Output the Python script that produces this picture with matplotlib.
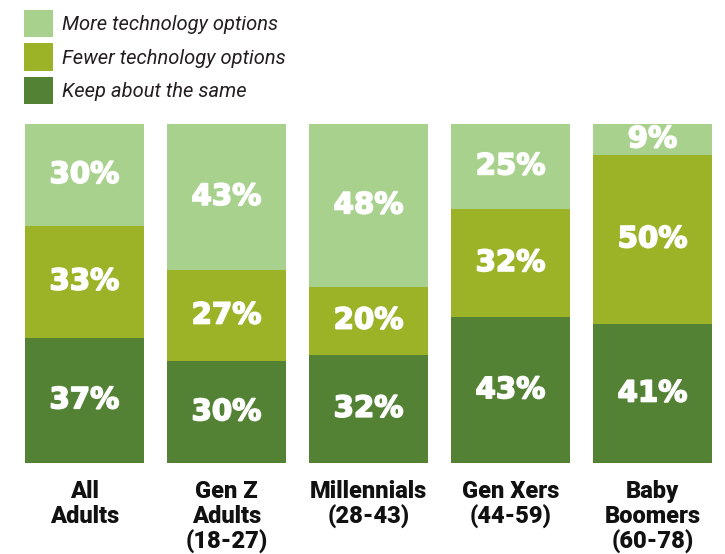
import numpy as np
import matplotlib.pyplot as plt
import matplotlib.patheffects as pe
from matplotlib.patches import Patch

# ---Datos---
grupos = ['All\nAdults', 'Gen Z\nAdults\n(18-27)', 'Millennials\n(28-43)',
          'Gen Xers\n(44-59)', 'Baby\nBoomers\n(60-78)']
keep_same = [37, 30, 32, 43, 41]
fewer_tech = [33, 27, 20, 32, 50]
more_tech = [30, 43, 48, 25, 9]

series = [
    ('Keep about the same', keep_same, '#548235'),
    ('Fewer technology options', fewer_tech, '#9cb227'),
    ('More technology options', more_tech, '#a9d18e'),
]

# ---Figura---
fig = plt.figure(figsize=(7.25, 5.54), dpi=100)
ax = fig.add_axes([13.5 / 725, 91 / 554, 710 / 725, 339 / 554])

x = np.arange(len(grupos))
base = np.zeros(len(grupos))
grueso = [pe.withStroke(linewidth=1.2, foreground='white')]
for nombre, vals, color in series:
    vals = np.array(vals, dtype=float)
    ax.bar(x, vals, bottom=base, width=0.838, color=color, edgecolor='none')
    # etiqueta de porcentaje centrada en cada segmento
    for xi, b, v in zip(x, base, vals):
        ax.text(xi, b + v / 2, f'{int(v)}%', ha='center', va='center',
                color='white', fontsize=21, fontweight='bold',
                family='DejaVu Sans', path_effects=grueso)
    base += vals

ax.set_xlim(-0.5, len(grupos) - 0.5)
ax.set_ylim(0, 100)
ax.axis('off')

# nombres de los grupos debajo de cada barra
for xi, g in zip(x, grupos):
    ax.text(xi, -4.9, g, ha='center', va='top', fontsize=17,
            fontweight='black', family=['Roboto', 'DejaVu Sans'],
            color='#111111', linespacing=1.12)

# leyenda arriba a la izquierda
orden = ['More technology options', 'Fewer technology options', 'Keep about the same']
colores = {n: c for n, _, c in series}
leg_handles = [Patch(facecolor=colores[n], edgecolor='none') for n in orden]
fig.legend(leg_handles, orden, loc='upper left',
           bbox_to_anchor=(24 / 725, 1 - 10 / 554), bbox_transform=fig.transFigure,
           frameon=False, borderpad=0, borderaxespad=0,
           handlelength=1.44, handleheight=1.7, labelspacing=0.31,
           handletextpad=0.46,
           prop={'family': 'Roboto', 'style': 'italic', 'size': 14.5})
for t in fig.legends[0].get_texts():
    t.set_color('#231f20')

fig.savefig('out.png', dpi=100)
